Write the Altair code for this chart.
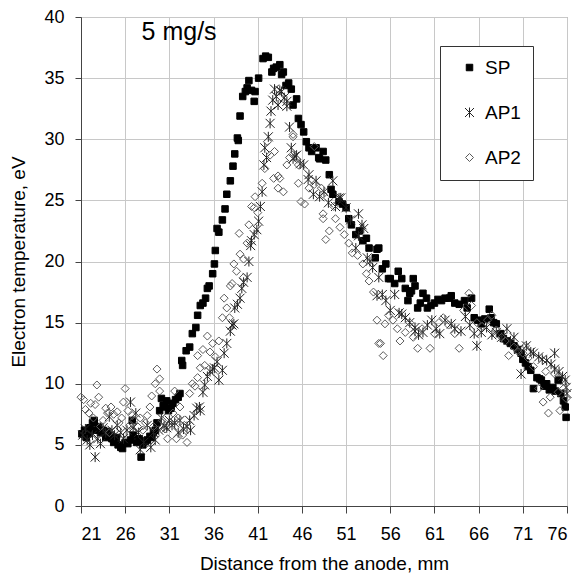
import altair as alt
import pandas as pd

# ---- data ----
sp_x = [21.1, 21.4, 21.6, 21.8, 22.0, 22.3, 22.5, 22.7, 23.0, 23.2, 23.5, 23.8, 24.0, 24.3, 24.5,
        24.7, 25.0, 25.2, 25.5, 25.7, 26.0, 26.3, 26.6, 26.8, 26.9, 27.3, 27.6, 27.8, 28.0, 28.3,
        28.5, 28.8, 29.0, 29.2, 29.4, 29.6, 29.9, 30.1, 30.3, 30.5, 30.7, 30.9, 31.2, 31.4, 31.7,
        32.0, 32.2, 32.4, 32.5, 32.9, 33.3, 33.6, 34.0, 34.2, 34.5, 34.8, 35.1, 35.3, 35.5, 35.9,
        36.1, 36.2, 36.4, 36.6, 37.0, 37.3, 37.5, 37.9, 38.2, 38.4, 38.7, 38.8, 39.0, 39.3, 39.6,
        39.8, 40.0, 40.3, 40.6, 40.7, 41.1, 41.6, 41.9, 42.2, 42.6, 42.8, 43.1, 43.5, 43.7, 43.9,
        44.2, 44.5, 44.8, 45.0, 45.4, 45.6, 45.9, 46.2, 46.5, 46.8, 47.1, 47.6, 47.9, 48.0, 48.4,
        48.7, 49.1, 49.3, 49.5, 50.2, 50.6, 51.0, 51.3, 51.6, 52.1, 52.5, 52.9, 53.3, 53.6, 54.3,
        54.5, 54.7, 55.1, 55.5, 55.8, 56.0, 56.5, 56.9, 57.3, 57.7, 58.0, 58.2, 58.4, 58.6, 58.8,
        59.1, 59.4, 59.7, 60.1, 60.2, 60.6, 61.0, 61.4, 61.8, 62.2, 62.7, 62.9, 63.3, 63.8, 64.4,
        64.7, 65.2, 65.5, 65.9, 66.3, 66.7, 67.2, 67.4, 67.7, 68.0, 68.5, 68.8, 69.2, 69.6, 70.0,
        70.4, 70.8, 71.0, 71.3, 71.6, 71.9, 72.2, 72.6, 72.9, 73.1, 73.4, 73.7, 74.0, 74.4, 74.7,
        75.0, 75.3, 75.6, 75.8, 75.9]
sp_y = [5.9, 6.2, 5.6, 5.9, 6.4, 6.8, 7.0, 6.2, 6.5, 6.0, 6.2, 5.6, 6.1, 5.8, 5.5,
        5.2, 5.6, 5.0, 4.8, 4.7, 5.2, 5.1, 5.4, 7.0, 5.8, 5.2, 5.5, 4.0, 5.0, 5.3,
        5.4, 5.7, 5.6, 6.0, 6.2, 6.8, 7.8, 8.8, 8.2, 8.1, 8.6, 7.8, 8.0, 8.4, 8.7,
        8.9, 9.2, 11.9, 11.5, 12.7, 13.0, 14.1, 14.6, 15.6, 16.4, 16.6, 17.0, 17.8, 18.0, 19.0,
        19.8, 20.9, 22.7, 22.4, 23.4, 24.3, 25.5, 26.6, 27.8, 28.8, 30.1, 29.9, 31.9, 33.5, 33.9,
        34.2, 34.8, 34.0, 33.1, 33.9, 35.0, 36.6, 36.8, 36.7, 35.5, 35.8, 35.9, 36.1, 35.3, 35.5,
        34.4, 34.6, 34.1, 32.8, 33.3, 31.7, 31.2, 30.6, 29.8, 29.3, 29.0, 29.3, 28.5, 28.4, 29.0,
        28.3, 27.1, 25.9, 25.5, 24.9, 24.7, 24.4, 23.5, 23.0, 22.2, 22.5, 21.7, 21.9, 21.1, 20.3,
        21.0, 21.1, 19.4, 19.8, 18.6, 18.6, 18.2, 19.2, 18.6, 17.8, 16.8, 17.4, 17.6, 18.6, 18.0,
        16.2, 16.6, 17.4, 17.0, 16.2, 16.4, 16.6, 16.9, 16.8, 17.0, 17.0, 17.2, 16.6, 16.5, 16.8,
        16.2, 17.0, 15.4, 15.2, 14.9, 15.3, 16.1, 15.4, 15.0, 14.9, 14.1, 13.7, 13.5, 13.3, 13.1,
        12.8, 12.5, 12.0, 11.7, 11.4, 11.1, 9.6, 10.5, 10.4, 10.3, 9.8, 10.0, 9.5, 9.7, 9.4,
        10.3, 9.2, 8.6, 8.1, 7.25]

ap1_x = [21.2, 21.5, 21.7, 22.0, 22.3, 22.6, 22.9, 23.2, 23.5, 23.8, 24.2, 24.5, 24.8, 25.1, 25.5,
         25.8, 26.2, 26.6, 26.9, 27.2, 27.5, 27.7, 28.1, 28.5, 28.9, 29.2, 29.4, 29.8, 30.1, 30.4,
         30.7, 31.0, 31.3, 31.6, 32.0, 32.2, 32.6, 33.0, 33.3, 33.4, 33.8, 34.1, 34.4, 34.5, 34.8,
         35.0, 35.3, 35.6, 35.9, 36.1, 36.4, 36.6, 37.0, 37.2, 37.5, 37.9, 38.1, 38.3, 38.4, 38.7,
         39.0, 39.2, 39.4, 39.8, 40.0, 40.2, 40.3, 40.6, 40.9, 41.1, 41.3, 41.5, 41.7, 41.8, 42.0,
         42.2, 42.4, 42.5, 42.7, 42.9, 43.1, 43.3, 43.5, 43.7, 44.0, 44.3, 44.3, 44.6, 44.8, 45.0,
         45.2, 45.4, 45.8, 46.2, 46.7, 46.8, 47.3, 47.6, 48.0, 48.5, 49.0, 49.5, 49.8, 50.2, 50.4,
         51.0, 51.5, 52.1, 52.4, 52.4, 52.8, 53.0, 53.4, 53.7, 54.0, 54.5, 54.7, 55.1, 55.5, 56.0,
         56.5, 57.0, 57.3, 57.7, 58.2, 58.8, 58.8, 59.2, 59.7, 60.2, 60.7, 61.2, 61.6, 62.2, 62.9,
         63.3, 64.0, 64.5, 65.0, 65.5, 65.8, 66.3, 66.9, 67.5, 68.0, 68.6, 69.2, 69.6, 70.0, 70.5,
         70.8, 71.4, 71.9, 72.2, 72.8, 73.2, 73.7, 74.2, 74.6, 74.6, 75.1, 75.5, 75.8, 75.9, 76.0]
ap1_y = [5.8, 6.3, 5.4, 5.0, 5.8, 4.0, 5.5, 5.1, 6.4, 6.0, 7.3, 6.2, 5.8, 6.6, 6.0,
         5.5, 6.2, 8.5, 6.4, 7.6, 6.0, 4.6, 5.2, 6.6, 4.8, 6.0, 5.4, 6.2, 7.2, 6.5,
         6.4, 7.0, 6.6, 6.8, 6.0, 7.0, 6.3, 6.5, 7.0, 6.2, 7.4, 8.0, 8.1, 7.8, 9.3,
         9.9, 10.6, 11.0, 11.2, 11.3, 11.8, 10.3, 11.1, 12.5, 13.3, 14.3, 14.8, 14.9, 16.2, 16.5,
         17.0, 17.8, 18.3, 18.7, 20.0, 21.3, 21.7, 22.2, 22.6, 23.3, 24.5, 25.7, 27.9, 29.3, 28.5,
         30.2, 31.3, 32.3, 33.2, 34.1, 33.5, 32.8, 34.0, 33.9, 33.4, 33.1, 32.7, 31.0, 29.3, 28.4,
         28.6, 28.7, 28.0, 27.9, 26.7, 27.1, 25.5, 26.6, 25.3, 25.7, 24.8, 26.6, 24.5, 25.2, 25.2,
         24.4, 23.4, 21.1, 23.9, 22.1, 23.0, 22.7, 20.3, 20.0, 19.5, 17.2, 18.7, 17.3, 16.8, 16.0,
         17.3, 15.8, 15.7, 15.4, 15.0, 14.6, 14.3, 14.0, 14.2, 14.8, 15.2, 14.5, 14.1, 15.2, 14.9,
         14.5, 14.3, 15.5, 14.8, 14.1, 13.1, 14.2, 14.6, 14.0, 14.2, 13.8, 14.5, 13.5, 13.8, 12.8,
         10.8, 13.1, 12.6, 12.5, 12.2, 12.0, 11.9, 11.6, 12.5, 11.2, 11.0, 10.6, 10.3, 9.7, 9.2]

ap2_x = [21.0, 21.3, 21.5, 21.9, 22.1, 22.4, 22.6, 22.8, 23.0, 23.2, 23.5, 23.8, 24.0, 24.2, 24.4,
         24.7, 25.1, 25.3, 25.6, 25.8, 26.0, 26.3, 26.5, 26.8, 27.0, 27.4, 27.7, 28.0, 28.3, 28.5,
         28.8, 29.0, 29.2, 29.4, 29.6, 29.9, 29.9, 30.2, 30.5, 30.8, 31.1, 31.4, 31.6, 31.8, 32.0,
         32.2, 32.5, 32.7, 33.0, 33.3, 33.6, 33.9, 34.2, 34.2, 34.5, 34.8, 35.0, 35.3, 35.6, 35.9,
         36.2, 36.6, 37.0, 37.2, 37.5, 37.8, 37.9, 38.1, 38.3, 38.6, 38.9, 39.0, 39.4, 39.4, 39.8,
         40.0, 40.3, 40.6, 40.7, 41.0, 41.5, 41.8, 42.1, 42.4, 42.8, 42.9, 43.3, 43.3, 43.5, 43.9,
         44.3, 44.6, 45.0, 45.0, 45.6, 45.6, 45.9, 46.3, 46.8, 47.4, 47.4, 48.2, 48.4, 48.4, 48.4,
         48.7, 49.1, 49.6, 49.8, 50.3, 50.8, 51.3, 51.7, 52.3, 52.9, 53.3, 53.6, 54.1, 54.5, 54.7,
         54.9, 55.2, 55.4, 55.8, 56.3, 56.8, 57.1, 57.7, 58.2, 58.6, 59.1, 59.6, 60.5, 61.0, 61.5,
         62.0, 62.6, 63.3, 63.8, 64.3, 64.9, 65.2, 65.8, 66.4, 67.0, 67.5, 68.0, 68.6, 69.0, 69.4,
         70.0, 70.5, 71.0, 71.3, 71.6, 72.2, 72.8, 73.3, 73.6, 73.9, 74.1, 74.6, 75.0, 75.2, 75.6,
         75.9]
ap2_y = [8.9, 8.7, 7.9, 7.6, 8.4, 7.2, 8.3, 9.9, 8.9, 6.5, 7.0, 8.0, 7.6, 6.0, 8.1,
         7.5, 7.7, 6.8, 7.2, 8.5, 9.6, 7.8, 6.6, 7.4, 7.0, 6.5, 7.2, 6.2, 6.8, 7.4,
         8.1, 9.0, 6.5, 10.0, 11.2, 10.4, 9.4, 7.0, 6.3, 5.5, 6.8, 7.6, 9.4, 5.5, 7.2,
         8.1, 5.8, 6.6, 5.2, 9.2, 10.0, 9.8, 10.5, 12.3, 11.3, 12.8, 11.5, 13.9, 12.6, 13.3,
         12.2, 13.5, 15.4, 17.0, 16.2, 15.4, 18.0, 18.2, 19.8, 19.2, 22.3, 20.6, 20.2, 18.7, 21.5,
         23.0, 24.5, 24.4, 25.3, 24.0, 26.4, 27.6, 29.8, 28.7, 26.8, 29.0, 26.0, 27.0, 26.8, 25.7,
         27.9, 28.5, 30.2, 30.4, 27.9, 26.4, 24.9, 24.7, 26.0, 26.3, 29.4, 26.0, 23.9, 25.5, 23.5,
         21.8, 22.5, 24.5, 23.5, 22.8, 22.2, 21.5, 20.7, 20.5, 19.8, 19.0, 18.4, 17.5, 15.2, 13.3,
         13.3, 12.3, 14.9, 15.6, 15.2, 14.5, 13.5, 14.2, 15.0, 13.8, 12.9, 14.5, 12.9, 14.1, 15.0,
         15.4, 14.8, 14.1, 12.9, 16.0, 17.4, 16.4, 15.0, 14.7, 15.2, 15.6, 14.4, 13.8, 13.5, 12.3,
         13.0, 12.6, 12.5, 13.1, 12.1, 11.4, 9.6, 8.5, 11.0, 7.6, 8.9, 10.8, 9.3, 7.8, 9.6,
         8.8]

series_names = ["SP", "AP1", "AP2"]
x_ticks = [21, 26, 31, 36, 41, 46, 51, 56, 61, 66, 71, 76]
y_ticks = [0, 5, 10, 15, 20, 25, 30, 35, 40]
annotation = "5 mg/s"

# ---- build table ----
df = pd.concat([
    pd.DataFrame({"x": sp_x, "y": sp_y, "series": "SP"}),
    pd.DataFrame({"x": ap1_x, "y": ap1_y, "series": "AP1"}),
    pd.DataFrame({"x": ap2_x, "y": ap2_y, "series": "AP2"}),
], ignore_index=True)
df["order"] = df["series"].map({"SP": 0, "AP1": 1, "AP2": 2})

FONT = "Liberation Sans"

square_path = "M-0.65,-0.65L0.65,-0.65L0.65,0.65L-0.65,0.65Z"
star_path = "M0,-1L0,1M-0.9,-0.9L0.9,0.9M-0.9,0.9L0.9,-0.9"
diamond_path = "M-0.8,0L0,-0.8L0.8,0L0,0.8Z"

legend = alt.Legend(
    title=None, orient="none", legendX=359, legendY=29,
    padding=12, rowPadding=25, symbolOffset=8, labelOffset=6,
    strokeColor="#333", fillColor="white",
    labelFont=FONT, labelFontSize=19, labelColor="black",
    symbolSize=100, symbolStrokeWidth=1,
)

xscale = alt.Scale(domain=[21, 76], nice=False, zero=False)
yscale = alt.Scale(domain=[0, 40], nice=False)

points = alt.Chart(df).mark_point(strokeWidth=1, size=100, opacity=1).encode(
    x=alt.X("x:Q", scale=xscale, title="Distance from the anode, mm",
            axis=alt.Axis(values=x_ticks, tickSize=7, labelPadding=12, titlePadding=11)),
    y=alt.Y("y:Q", scale=yscale, title="Electron temperature, eV",
            axis=alt.Axis(values=y_ticks, tickSize=6, labelPadding=11, titlePadding=15)),
    shape=alt.Shape("series:N", scale=alt.Scale(domain=series_names,
                                                range=[square_path, star_path, diamond_path]),
                    legend=legend),
    fill=alt.Fill("series:N", scale=alt.Scale(domain=series_names,
                                              range=["black", "transparent", "transparent"]),
                  legend=legend),
    stroke=alt.Stroke("series:N", scale=alt.Scale(domain=series_names,
                                                  range=["black", "#222222", "#5a5a5a"]),
                      legend=legend),
    order=alt.Order("order:Q"),
)

ann_df = pd.DataFrame({"x": [32.1], "y": [38.1], "t": [annotation]})
ann = alt.Chart(ann_df).mark_text(font=FONT, fontSize=25, color="black",
                                  align="center", baseline="alphabetic").encode(
    x=alt.X("x:Q", scale=xscale), y=alt.Y("y:Q", scale=yscale), text="t:N")

chart = alt.layer(points, ann).properties(
    width=486, height=489,
    autosize=alt.AutoSizeParams(type="none"),
    padding={"left": 73, "top": 9, "right": 11, "bottom": 68},
).configure(font=FONT).configure_view(
    stroke="#8c8c8c", strokeWidth=1
).configure_axis(
    grid=True, gridColor="#c8c8c8", gridWidth=1,
    domainColor="#444444", tickColor="#444444",
    labelFont=FONT, labelFontSize=18, labelColor="black",
    titleFont=FONT, titleFontSize=19, titleFontWeight="normal", titleColor="black",
)

chart.save("out.html", embed_options={"renderer": "svg", "actions": False})
